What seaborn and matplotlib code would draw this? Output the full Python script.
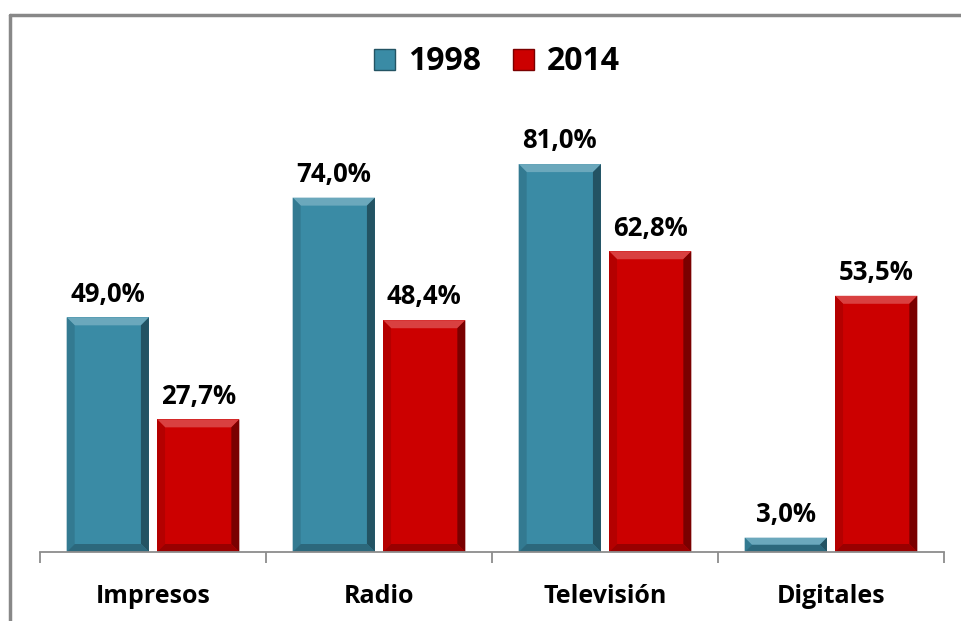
import matplotlib
matplotlib.use("Agg")
import matplotlib.pyplot as plt
import seaborn as sns
import pandas as pd
import numpy as np
from matplotlib.patches import Polygon, Rectangle
from matplotlib.lines import Line2D
import matplotlib.colors as mcolors

categories = ["Impresos", "Radio", "Televisión", "Digitales"]
years = ["1998", "2014"]
values_1998 = [49.0, 74.0, 81.0, 3.0]
values_2014 = [27.7, 48.4, 62.8, 53.5]
colors = {"1998": "#3A8BA5", "2014": "#CC0000"}

df = pd.DataFrame({
    "cat": categories * 2,
    "year": [years[0]] * 4 + [years[1]] * 4,
    "val": values_1998 + values_2014,
})

sns.set_theme(style="white")
plt.rcParams["font.family"] = ["Open Sans", "DejaVu Sans"]

fig = plt.figure(figsize=(9.62, 6.21), dpi=100)
ax = fig.add_axes([40 / 962, 69 / 621, 904 / 962, 431 / 621])

sns.barplot(data=df, x="cat", y="val", hue="year", order=categories,
            hue_order=years, palette=colors, width=0.8, gap=0.09,
            saturation=1, ax=ax, legend=False, linewidth=0)

ax.set_xlim(-0.5, 3.5)
ax.set_ylim(0, 90)

# bevel decoration derived from each drawn bar
px_x = 226.0  # pixels per x unit
px_y = 431.0 / 90.0
for p in list(ax.patches):
    x0, y0 = p.get_x(), p.get_y()
    w, h = p.get_width(), p.get_height()
    base = np.array(mcolors.to_rgb(p.get_facecolor()))
    b = 8.0
    bx = b / px_x
    by = min(b / px_y, h / 2)
    bxx = min(bx, by * px_y / px_x)
    x1, y1 = x0 + w, y0 + h
    light = np.clip(base + (1 - base) * 0.25, 0, 1)
    polys = [
        ([(x0, y1), (x1, y1), (x1 - bxx, y1 - by), (x0 + bxx, y1 - by)], light),
        ([(x0, y0), (x0, y1), (x0 + bxx, y1 - by), (x0 + bxx, y0 + by)], base * 0.88),
        ([(x1, y0), (x1, y1), (x1 - bxx, y1 - by), (x1 - bxx, y0 + by)], base * 0.6),
        ([(x0, y0), (x1, y0), (x1 - bxx, y0 + by), (x0 + bxx, y0 + by)], base * 0.75),
    ]
    for pts, c in polys:
        ax.add_patch(Polygon(pts, closed=True, facecolor=c, edgecolor="none", zorder=p.get_zorder() + 0.1))

for container, yr in zip(ax.containers, years):
    labels = [f"{v:.1f}%".replace(".", ",") for v in container.datavalues]
    ax.bar_label(container, labels=labels, padding=7, fontsize=18.5,
                 fontweight="bold", color="black")

for s in ["top", "right", "left"]:
    ax.spines[s].set_visible(False)
ax.spines["bottom"].set_color("#8C8C8C")
ax.spines["bottom"].set_linewidth(1.3)
ax.set_yticks([])
ax.set_xlabel("")
ax.set_ylabel("")
ax.set_xticks(range(4))
ax.set_xticklabels(categories, fontsize=18, fontweight="bold", color="black")
ax.tick_params(axis="x", which="major", length=0, pad=23)
ax.set_xticks([-0.5, 0.5, 1.5, 2.5, 3.5], minor=True)
ax.tick_params(axis="x", which="minor", length=8, width=1.3, color="#8C8C8C", direction="out", bottom=True)

handles = [Rectangle((0, 0), 1, 1, facecolor=colors[y], edgecolor=np.array(mcolors.to_rgb(colors[y])) * 0.6, linewidth=1) for y in years]
fig.legend(handles, years, loc="center", bbox_to_anchor=(497 / 962, 1 - 62 / 621),
           ncol=2, frameon=False, prop={"family": ["Open Sans"], "weight": "bold", "size": 23},
           labelcolor="black",
           handlelength=0.65, handleheight=0.65, handletextpad=0.4, columnspacing=1.0)

# figure border (top and left visible in reference)
fig.add_artist(Line2D([10 / 962, 10 / 962], [0, 1 - 15 / 621], transform=fig.transFigure, color="#888888", linewidth=2.5))
fig.add_artist(Line2D([10 / 962, 1], [1 - 15 / 621, 1 - 15 / 621], transform=fig.transFigure, color="#888888", linewidth=2.5))

fig.savefig("out.png", dpi=100)
